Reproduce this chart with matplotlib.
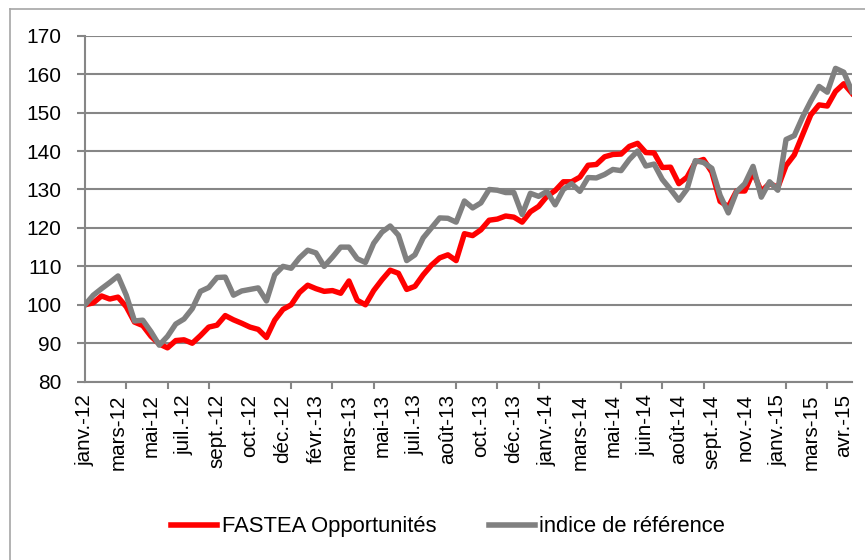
import matplotlib.pyplot as plt
from matplotlib.lines import Line2D

# valeurs base 100, releves a intervalle regulier
fastea = [100, 100.5, 102.3, 101.5, 102, 99.5, 95.5, 94.6, 91.8, 89.8,
          88.8, 90.7, 90.9, 90, 92, 94.2, 94.7, 97.2, 96.1, 95.2,
          94.2, 93.6, 91.5, 96, 98.8, 100, 103.2, 105.1, 104.2, 103.5,
          103.7, 103, 106.2, 101.2, 100, 103.7, 106.5, 109, 108.2, 104,
          104.8, 107.8, 110.3, 112.2, 113, 111.5, 118.5, 118, 119.5, 122,
          122.3, 123.1, 122.8, 121.5, 124.2, 125.6, 128.2, 129.7, 132, 132,
          133.2, 136.3, 136.5, 138.5, 139.1, 139.2, 141.2, 142, 139.6, 139.5,
          135.7, 135.8, 131.5, 133.2, 137.1, 137.8, 134.5, 126.9, 125.5, 129.6,
          129.6, 134.5, 129.5, 131.6, 130.5, 136.2, 139, 144.2, 149.4, 152,
          151.7, 155.5, 157.5, 155]

indice = [100, 102.5, 104.2, 105.8, 107.5, 102.5, 95.8, 96, 93, 89.5,
          91.8, 95, 96.3, 99, 103.5, 104.5, 107.1, 107.2, 102.5, 103.6,
          104, 104.4, 101, 107.8, 110, 109.5, 112.2, 114.2, 113.5, 110,
          112.4, 115, 115, 112, 111, 116, 118.9, 120.5, 118.1, 111.5,
          113, 117.4, 120, 122.6, 122.5, 121.5, 127, 125.2, 126.5, 130,
          129.8, 129.2, 129.2, 123.5, 129, 128.2, 129.5, 126, 130, 131.5,
          129.5, 133.1, 133, 133.9, 135.2, 134.9, 137.8, 140, 136.1, 136.6,
          132.6, 130, 127.2, 130.1, 137.5, 137, 135.5, 128.5, 123.9, 129.4,
          131.5, 136, 128, 132, 129.8, 143, 144, 148.8, 153, 156.8,
          155.3, 161.5, 160.5, 155.5]

labels = ["janv.-12", "mars-12", "mai-12", "juil.-12", "sept.-12", "oct.-12",
          "déc.-12", "févr.-13", "mars-13", "mai-13", "juil.-13", "août-13",
          "oct.-13", "déc.-13", "janv.-14", "mars-14", "mai-14", "juin-14",
          "août-14", "sept.-14", "nov.-14", "janv.-15", "mars-15", "avr.-15"]

plt.rcParams['font.family'] = ['Liberation Sans', 'DejaVu Sans']
grid_col = "#868686"

fig = plt.figure(figsize=(8.65, 5.6), dpi=100)
ax = fig.add_axes([0.0983, 0.3184, 0.8867, 0.6179])

x = list(range(len(fastea)))
ax.plot(x, fastea, color="#ff0000", linewidth=3.9, solid_joinstyle="round", zorder=3)
ax.plot(x, indice, color="#808080", linewidth=3.9, solid_joinstyle="round", zorder=4)

ax.set_xlim(0, len(fastea) - 1)
ax.set_ylim(80, 170)
ax.set_yticks(range(80, 171, 10))
ax.yaxis.grid(True, color=grid_col, linewidth=1.5)
ax.set_axisbelow(True)

# etiquettes tous les 4 points, graduations tous les 5 points
ax.set_xticks(range(0, 93, 4))
ax.set_xticklabels(labels, rotation=90, fontsize=14.9)
ax.set_xticks(range(0, 91, 5), minor=True)
ax.tick_params(axis="x", which="major", length=0, pad=9)
ax.tick_params(axis="x", which="minor", length=5, width=1.5, color=grid_col)
ax.tick_params(axis="y", length=6, width=1.5, color=grid_col, pad=11, labelsize=15)

for s in ["top", "right"]:
    ax.spines[s].set_visible(False)
for s in ["left", "bottom"]:
    ax.spines[s].set_color(grid_col)
    ax.spines[s].set_linewidth(1.5)

handles = [Line2D([], [], color="#ff0000", linewidth=4),
           Line2D([], [], color="#808080", linewidth=4)]
fig.legend(handles, ["FASTEA Opportunités", "indice de référence"],
           loc="center", bbox_to_anchor=(0.518, 0.059), ncol=2, frameon=False,
           fontsize=15.8, handlelength=2.1, handletextpad=0.2, columnspacing=2.4)

# cadre de la zone de graphique (bords gauche et haut visibles)
fig.add_artist(Line2D([9.5 / 865, 9.5 / 865], [0, 1 - 8.5 / 560], color="#a6a6a6", linewidth=1.2))
fig.add_artist(Line2D([9.5 / 865, 1], [1 - 8.5 / 560, 1 - 8.5 / 560], color="#a6a6a6", linewidth=1.2))

fig.savefig("out.png", dpi=100)
